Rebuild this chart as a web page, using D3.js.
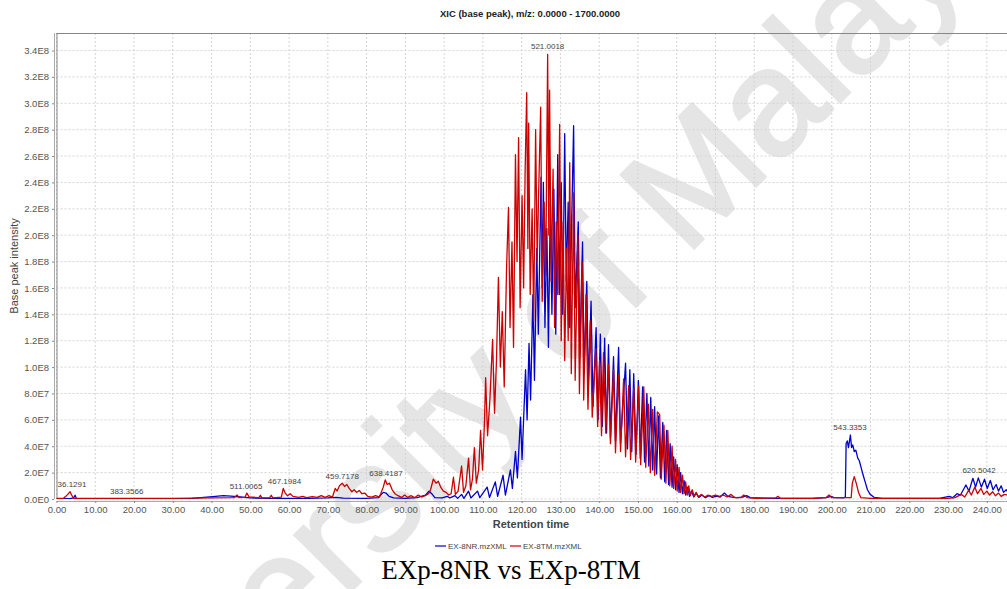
<!DOCTYPE html>
<html>
<head>
<meta charset="utf-8">
<script src="https://cdn.jsdelivr.net/npm/d3@7"></script>
<style>
  body { margin: 0; background: #fff; }
  svg { display: block; }
</style>
</head>
<body>
<svg id="xic_svg" width="1007" height="589"></svg>
<script>
// retention time (min) and base peak intensity (in units of 1E7)
const blueRt = [0, 3.5, 4.4, 4.8, 5.1, 10, 20, 30, 35, 38, 41, 43, 45, 47.5, 50, 55, 60, 65, 70, 72, 74, 80, 83, 84.3, 85.0, 85.8, 87.0, 90, 93, 95.2, 96.1, 96.8, 97.6, 99.5, 100.8, 101.5, 102.8, 103.5, 104.5, 105.1, 106.3, 106.9, 108.6, 109.2, 111.1, 111.7, 113.2, 113.8, 115.2, 115.8, 117.1, 117.6, 118.4, 118.9, 119.7, 120.1, 121.0, 121.4, 121.9, 122.3, 122.9, 123.3, 123.9, 124.3, 125.0, 125.3, 125.6, 126.0, 126.5, 126.9, 127.4, 127.8, 128.3, 128.8, 129.3, 129.7, 130.2, 130.6, 131.1, 131.5, 132.0, 132.4, 132.9, 133.4, 133.8, 134.6, 135.0, 135.7, 136.1, 136.8, 137.2, 137.9, 138.4, 139.2, 139.7, 140.3, 140.8, 141.4, 141.9, 142.4, 142.9, 143.7, 144.2, 145.0, 145.5, 146.8, 147.3, 147.9, 148.4, 148.9, 149.5, 150.1, 150.6, 151.2, 151.7, 152.3, 152.8, 153.3, 153.8, 154.3, 154.8, 155.3, 155.8, 156.4, 156.9, 157.4, 157.9, 158.3, 158.8, 159.2, 159.7, 160.1, 160.6, 161.0, 161.5, 161.9, 162.3, 162.8, 163.3, 163.8, 164.4, 165.0, 165.7, 166.5, 167.4, 168.3, 169.2, 170.2, 171.2, 172.3, 173.2, 174.2, 175.5, 177.0, 178.0, 179.0, 181, 185, 190, 195, 198.5, 199.8, 200.6, 203.0, 203.5, 203.7, 204.0, 204.3, 204.8, 205.1, 205.4, 205.8, 206.2, 206.7, 207.1, 207.5, 208.1, 208.7, 209.2, 209.9, 210.9, 213, 220, 228, 230.3, 231.2, 232.3, 233.2, 234.6, 235.4, 236.4, 237.1, 237.8, 238.6, 239.4, 240.1, 240.9, 241.6, 242.4, 243.0, 243.7, 244.3, 245.0, 245.5]
const blueInt = [0.03, 0.03, 0.08, 0.28, 0.05, 0.03, 0.03, 0.03, 0.05, 0.12, 0.2, 0.25, 0.22, 0.15, 0.08, 0.05, 0.04, 0.05, 0.08, 0.12, 0.06, 0.05, 0.1, 0.5, 0.45, 0.2, 0.08, 0.05, 0.1, 0.3, 0.6, 0.4, 0.1, 0.08, 0.2, 0.08, 0.25, 0.05, 0.35, 0.05, 0.6, 0.08, 0.6, 0.1, 0.9, 0.12, 1.3, 0.2, 1.8, 0.3, 2.2, 0.8, 3.6, 1.6, 6.2, 3.0, 9.8, 6.0, 11.8, 7.5, 15.5, 9.0, 19.0, 12.5, 24.4, 16.0, 24.0, 13.0, 20.5, 11.5, 22.5, 14.0, 23.5, 12.5, 26.1, 15.5, 24.0, 14.0, 27.7, 16.5, 22.5, 13.0, 21.0, 28.3, 14.5, 21.0, 11.0, 19.5, 9.5, 16.5, 8.5, 15.0, 7.0, 13.0, 6.0, 12.5, 5.5, 12.2, 5.0, 11.7, 4.6, 10.8, 4.4, 11.5, 4.2, 10.3, 3.8, 9.8, 3.6, 9.5, 3.4, 9.0, 3.1, 8.5, 2.8, 8.0, 2.5, 7.7, 2.2, 7.0, 1.9, 6.3, 1.6, 5.8, 1.3, 5.2, 1.1, 4.2, 0.9, 3.2, 0.7, 2.6, 0.5, 2.0, 0.4, 1.4, 0.3, 0.9, 0.2, 0.6, 0.15, 0.45, 0.12, 0.3, 0.1, 0.25, 0.12, 0.22, 0.15, 0.45, 0.2, 0.15, 0.1, 0.15, 0.25, 0.1, 0.08, 0.05, 0.05, 0.05, 0.1, 0.2, 0.1, 0.08, 0.15, 4.2, 4.4, 3.9, 4.85, 3.9, 4.1, 3.6, 3.7, 3.1, 2.9, 2.45, 1.8, 1.2, 0.7, 0.35, 0.13, 0.05, 0.05, 0.06, 0.2, 0.1, 0.4, 0.3, 1.06, 0.6, 1.57, 0.9, 1.6, 0.9, 1.5, 0.8, 1.4, 0.7, 1.1, 0.6, 1.0, 0.5, 0.7, 0.5]

const redRt = [0, 1.8, 2.4, 2.9, 3.5, 3.9, 4.4, 12, 20, 30, 40, 45.8, 46.6, 47.1, 48.6, 49.1, 49.7, 52.2, 52.6, 53.0, 55.0, 55.4, 55.8, 58.0, 58.5, 59.0, 59.6, 60.3, 61.0, 62.5, 63.5, 64.5, 66.0, 67.2, 68.3, 69.3, 70.3, 71.2, 71.9, 72.4, 73.0, 73.7, 74.3, 74.9, 75.5, 76.2, 76.8, 77.4, 78.1, 78.8, 79.5, 80.3, 81.3, 82.3, 83.3, 84.3, 84.8, 85.3, 85.9, 86.6, 87.3, 88.1, 89.0, 89.8, 90.6, 91.5, 92.4, 93.3, 94.2, 95.1, 96.0, 96.5, 97.2, 97.9, 98.5, 99.1, 99.8, 100.5, 101.2, 101.8, 102.4, 102.9, 103.6, 104.5, 105.0, 105.6, 106.3, 106.8, 107.3, 107.8, 108.3, 108.9, 109.4, 109.9, 110.4, 110.7, 111.2, 111.8, 112.5, 113.0, 113.5, 114.0, 114.5, 115.0, 115.5, 116.1, 116.6, 117.0, 117.5, 117.9, 118.4, 118.8, 119.2, 119.6, 120.1, 120.5, 120.9, 121.3, 121.6, 121.8, 122.2, 122.7, 123.1, 123.6, 124.0, 124.4, 124.9, 125.3, 125.8, 126.2, 126.7, 127.0, 127.2, 127.6, 128.1, 128.5, 128.9, 129.3, 129.8, 130.2, 130.7, 131.1, 131.6, 132.0, 132.4, 132.8, 133.4, 133.8, 134.5, 134.9, 135.6, 136.0, 136.6, 137.1, 137.7, 138.2, 139.1, 139.6, 140.1, 140.6, 141.1, 141.7, 142.4, 142.9, 143.7, 144.2, 145.0, 145.5, 146.3, 146.8, 147.6, 148.1, 148.9, 149.4, 150.2, 150.7, 151.5, 152.0, 152.7, 153.2, 153.8, 154.3, 155.0, 155.6, 156.0, 156.7, 157.2, 157.7, 158.2, 158.8, 159.2, 159.7, 160.1, 160.6, 161.0, 161.5, 161.9, 162.3, 162.7, 163.1, 163.5, 164.0, 164.5, 165.0, 165.6, 166.3, 167.2, 168.1, 169.0, 170.0, 171.0, 172.0, 173.0, 174.0, 175.0, 176.5, 177.3, 178.2, 180.5, 185.5, 186.1, 186.7, 195, 198.5, 199.3, 200.0, 205.0, 205.3, 205.8, 206.3, 206.9, 207.5, 210, 230, 231.8, 233.4, 234.3, 235.3, 236.0, 236.9, 237.6, 238.5, 239.2, 240.0, 240.7, 241.5, 242.2, 243.0, 243.7, 244.5, 245.5]
const redInt = [0.05, 0.05, 0.2, 0.35, 0.55, 0.3, 0.05, 0.05, 0.05, 0.05, 0.08, 0.1, 0.3, 0.1, 0.12, 0.45, 0.15, 0.1, 0.28, 0.08, 0.1, 0.28, 0.08, 0.15, 0.8, 0.45, 0.25, 0.4, 0.2, 0.12, 0.2, 0.1, 0.18, 0.12, 0.25, 0.12, 0.25, 0.15, 0.8, 0.6, 1.0, 1.2, 0.95, 1.1, 0.8, 0.55, 0.7, 0.5, 0.65, 0.4, 0.45, 0.2, 0.15, 0.25, 0.15, 0.9, 1.45, 1.1, 1.2, 0.7, 0.4, 0.25, 0.12, 0.3, 0.12, 0.25, 0.1, 0.3, 0.15, 0.25, 0.4, 0.7, 1.5, 1.2, 1.35, 0.9, 0.6, 0.5, 0.3, 0.4, 1.65, 0.35, 0.6, 2.5, 0.5, 1.0, 3.1, 0.7, 1.5, 3.9, 1.2, 2.2, 5.2, 2.2, 5.8, 9.2, 4.8, 7.5, 12.1, 6.5, 10.5, 16.8, 10.0, 14.2, 8.5, 17.5, 22.1, 13.0, 19.5, 11.5, 26.1, 18.0, 27.4, 14.5, 23.0, 16.0, 25.0, 30.8, 19.0, 28.5, 15.5, 22.0, 13.5, 28.0, 18.0, 23.5, 29.7, 15.0, 22.5, 17.0, 33.7, 20.0, 31.0, 16.5, 25.0, 13.0, 21.0, 15.5, 28.4, 12.0, 21.0, 10.5, 19.0, 12.0, 25.5, 9.5, 23.2, 9.0, 20.0, 8.0, 18.0, 7.5, 15.5, 6.8, 13.5, 6.2, 11.4, 5.5, 10.5, 4.8, 11.1, 5.0, 10.2, 4.2, 9.8, 3.5, 9.4, 3.6, 9.1, 3.2, 8.6, 3.0, 8.4, 2.8, 8.6, 2.6, 8.5, 2.4, 7.2, 2.0, 6.8, 1.8, 6.6, 6.4, 1.5, 5.6, 1.2, 5.2, 1.0, 4.0, 0.8, 3.0, 0.6, 2.4, 0.5, 1.8, 0.4, 1.3, 0.3, 1.0, 0.25, 0.7, 0.2, 0.5, 0.15, 0.35, 0.15, 0.3, 0.2, 0.3, 0.2, 0.3, 0.15, 0.35, 0.1, 0.1, 0.3, 0.1, 0.05, 0.08, 0.2, 0.05, 0.05, 0.1, 0.3, 0.1, 0.1, 1.2, 1.7, 1.2, 0.5, 0.1, 0.05, 0.05, 0.1, 0.35, 0.15, 0.65, 0.3, 0.9, 0.4, 0.8, 0.35, 0.6, 0.3, 0.55, 0.25, 0.45, 0.2, 0.35, 0.3]

// peak annotations (m/z of the base peak)
const peakText = ["36.1291", "383.3566", "511.0065", "467.1984", "459.7178", "638.4187", "521.0018", "543.3353", "620.5042"]
const peakRt = [4.0, 18.1, 48.9, 58.8, 73.7, 85.0, 126.7, 204.7, 238.0]
const peakInt = [0.55, 0.0, 0.35, 0.75, 1.15, 1.35, 33.7, 4.85, 1.6]

const xTicks = d3.range(0, 241, 10)
const yTicks = [0, 2e7, 4e7, 6e7, 8e7, 1e8, 1.2e8, 1.4e8, 1.6e8, 1.8e8, 2.0e8, 2.2e8, 2.4e8, 2.6e8, 2.8e8, 3.0e8, 3.2e8, 3.4e8]
const yTickLabels = ["0.0E0", "2.0E7", "4.0E7", "6.0E7", "8.0E7", "1.0E8", "1.2E8", "1.4E8", "1.6E8", "1.8E8", "2.0E8", "2.2E8", "2.4E8", "2.6E8", "2.8E8", "3.0E8", "3.2E8", "3.4E8"]

const seriesNames = ["EX-8NR.mzXML", "EX-8TM.mzXML"]
const seriesColors = ["#0000cc", "#cc0000"]

const margin = { top: 33, bottom: 90, left: 56.5, right: 0 }

let svg = d3.select("#xic_svg")
let width = +svg.attr("width")
let height = +svg.attr("height")
const plotBottom = 499

const xScale = d3.scaleLinear().domain([0, 245.2]).range([margin.left, width])
const yScale = d3.scaleLinear().domain([0, 3.533e8]).range([plotBottom, margin.top])

const tickFont = "'Liberation Sans', Arial, sans-serif"

/**
 * Watermark (drawn first, grid and lines sit on top of it)
 */
svg.append("text")
    .attr("transform", "translate(550,392) rotate(-45)")
    .attr("text-anchor", "middle")
    .style("font-family", tickFont).style("font-size", "150px")
    .attr("fill", "#e5e5e5").attr("stroke", "#e5e5e5").attr("stroke-width", 3)
    .text("University of Malaya")

/**
 * Chart title
 */
svg.append("text")
    .attr("x", 530).attr("y", 17)
    .attr("text-anchor", "middle")
    .style("font-family", tickFont).style("font-size", "9.5px").style("font-weight", "bold")
    .attr("fill", "#222")
    .text("XIC (base peak), m/z: 0.0000 - 1700.0000")

/**
 * Grid lines
 */
let g_grid = svg.append("g")
g_grid.selectAll(".vgrid").data(xTicks).enter().append("line")
    .attr("x1", d => xScale(d)).attr("x2", d => xScale(d))
    .attr("y1", margin.top).attr("y2", plotBottom)
    .attr("stroke", "#d4d4d4").attr("stroke-width", 1).attr("stroke-dasharray", "2,2")
g_grid.selectAll(".hgrid").data(yTicks).enter().append("line")
    .attr("x1", margin.left).attr("x2", width)
    .attr("y1", d => yScale(d)).attr("y2", d => yScale(d))
    .attr("stroke", "#d4d4d4").attr("stroke-width", 1).attr("stroke-dasharray", "2,2")

// plot outline
svg.append("line").attr("x1", margin.left).attr("x2", width).attr("y1", margin.top + 0.5).attr("y2", margin.top + 0.5)
    .attr("stroke", "#888")
svg.append("line").attr("x1", margin.left + 0.5).attr("x2", margin.left + 0.5).attr("y1", margin.top).attr("y2", plotBottom)
    .attr("stroke", "#888")

/**
 * Data lines
 */
svg.append("clipPath").attr("id", "plot_clip").append("rect")
    .attr("x", margin.left).attr("y", margin.top).attr("width", width - margin.left).attr("height", plotBottom - margin.top)

const line = d3.line().x(d => xScale(d[0])).y(d => yScale(d[1] * 1e7))
const blueData = d3.zip(blueRt, blueInt)
const redData = d3.zip(redRt, redInt)

let g_lines = svg.append("g").attr("clip-path", "url(#plot_clip)")
g_lines.selectAll(".xic_line").data([blueData, redData]).enter().append("path")
    .attr("class", "xic_line")
    .attr("d", line)
    .attr("fill", "none")
    .attr("stroke", (d, i) => seriesColors[i])
    .attr("stroke-width", 1.3)
    .attr("stroke-linejoin", "round")

/**
 * Peak labels
 */
svg.selectAll(".peak_label").data(peakText).enter().append("text")
    .attr("class", "peak_label")
    .attr("x", (d, i) => xScale(peakRt[i]))
    .attr("y", (d, i) => yScale(peakInt[i] * 1e7) - 5)
    .attr("text-anchor", "middle")
    .style("font-family", tickFont).style("font-size", "8px")
    .attr("fill", "#444")
    .text(d => d)

/**
 * Axes
 */
let x_axis = d3.axisBottom(xScale).tickValues(xTicks).tickFormat(d3.format(".2f")).tickSize(2).tickPadding(3)
let g_x_axis = svg.append("g").attr("transform", "translate(0," + (plotBottom + 2) + ")").call(x_axis)
g_x_axis.select(".domain").attr("stroke", "#aaa").attr("d", "M" + margin.left + ",0.5H" + width)

let y_axis = d3.axisLeft(yScale).tickValues(yTicks).tickFormat((d, i) => yTickLabels[i]).tickSize(2).tickPadding(3)
let g_y_axis = svg.append("g").attr("transform", "translate(" + (margin.left - 2.5) + ",0)").call(y_axis)
g_y_axis.select(".domain").attr("stroke", "#aaa").attr("d", "M0.5," + margin.top + "V" + plotBottom)

svg.selectAll(".tick line").attr("stroke", "#888")
svg.selectAll(".tick text").style("font-family", tickFont).style("font-size", "9.5px").attr("fill", "#555")

/**
 * Axis labels
 */
svg.append("text")
    .attr("x", 531).attr("y", 528)
    .attr("text-anchor", "middle")
    .style("font-family", tickFont).style("font-size", "11px").style("font-weight", "bold")
    .attr("fill", "#444")
    .text("Retention time")

svg.append("text")
    .attr("transform", "translate(18,266) rotate(-90)")
    .attr("text-anchor", "middle")
    .style("font-family", tickFont).style("font-size", "11px")
    .attr("fill", "#444")
    .text("Base peak intensity")

/**
 * Legend
 */
let g_legend = svg.append("g").attr("transform", "translate(435,546)")
let legendX = [0, 75]
let legendItem = g_legend.selectAll(".legend_item").data(seriesNames).enter().append("g")
    .attr("transform", (d, i) => "translate(" + legendX[i] + ",0)")
legendItem.append("line").attr("x1", 0).attr("x2", 11).attr("y1", 0).attr("y2", 0)
    .attr("stroke", (d, i) => seriesColors[i]).attr("stroke-width", 1.2)
legendItem.append("text").attr("x", 13).attr("y", 3)
    .style("font-family", tickFont).style("font-size", "8px").attr("fill", "#444")
    .text(d => d)

/**
 * Caption below the chart
 */
svg.append("text")
    .attr("x", 511).attr("y", 579)
    .attr("text-anchor", "middle")
    .style("font-family", "'Liberation Serif', 'Times New Roman', serif").style("font-size", "27px")
    .attr("fill", "#000")
    .text("EXp-8NR vs EXp-8TM")
</script>
</body>
</html>
